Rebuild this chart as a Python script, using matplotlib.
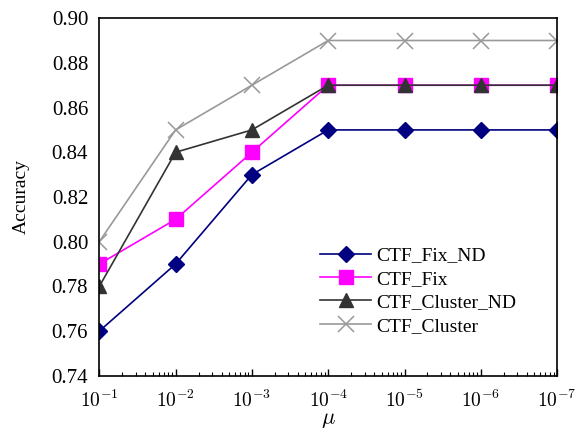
import matplotlib
matplotlib.use("Agg")
import matplotlib.pyplot as plt
from matplotlib.ticker import NullFormatter, FixedLocator

# ── data ──────────────────────────────────────────────────────────────
mu = [1e-1, 1e-2, 1e-3, 1e-4, 1e-5, 1e-6, 1e-7]
fix_nd = [0.76, 0.79, 0.83, 0.85, 0.85, 0.85, 0.85]
fix = [0.79, 0.81, 0.84, 0.87, 0.87, 0.87, 0.87]
cluster_nd = [0.78, 0.84, 0.85, 0.87, 0.87, 0.87, 0.87]
cluster = [0.80, 0.85, 0.87, 0.89, 0.89, 0.89, 0.89]
y_ticks = [0.74, 0.76, 0.78, 0.80, 0.82, 0.84, 0.86, 0.88, 0.90]

plt.rcParams["font.family"] = ["Liberation Serif", "DejaVu Serif"]
plt.rcParams["mathtext.fontset"] = "cm"

fig = plt.figure(figsize=(5.84, 4.32), dpi=100)
ax = fig.add_axes([0.170, 0.130, 0.784, 0.828])

ax.plot(mu, fix_nd, color="#000080", marker="D", markersize=8, lw=1.2, label="CTF_Fix_ND")
ax.plot(mu, fix, color="#ff00ff", marker="s", markersize=9.5, lw=1.2, label="CTF_Fix")
ax.plot(mu, cluster_nd, color="#333333", marker="^", markersize=10, lw=1.2, label="CTF_Cluster_ND")
ax.plot(mu, cluster, color="#999999", marker="x", markersize=11, mew=1.1, lw=1.2, label="CTF_Cluster")

ax.set_xscale("log")
ax.set_xlim(1e-1, 1e-7)
ax.xaxis.set_major_locator(FixedLocator(mu))
# minor ticks as drawn in the original (ascending-log pattern inside each decade)
minor = [d / m for d in mu[:-1] for m in range(2, 10)]
ax.xaxis.set_minor_locator(FixedLocator(minor))
ax.xaxis.set_minor_formatter(NullFormatter())
ax.set_xticklabels([r"$10^{-%d}$" % i for i in range(1, 8)])
ax.tick_params(axis="x", which="major", direction="in", length=5, width=1, labelsize=14, pad=10)
ax.tick_params(axis="x", which="minor", direction="in", length=3, width=0.8)
ax.tick_params(axis="y", direction="in", length=0, labelsize=15, pad=8)

ax.set_ylim(0.74, 0.90)
ax.set_yticks(y_ticks)
ax.set_yticklabels(["%.2f" % v for v in y_ticks])

for s in ax.spines.values():
    s.set_linewidth(1.2)

ax.set_xlabel(r"$\mu$", fontsize=16, labelpad=0)
ax.set_ylabel("Accuracy", fontsize=14, labelpad=16)

ax.legend(loc="lower right", bbox_to_anchor=(0.933, 0.088), frameon=False, fontsize=14,
          handlelength=2.6, labelspacing=0.3, handletextpad=0.3, borderpad=0)

fig.savefig("out.png", dpi=100)
